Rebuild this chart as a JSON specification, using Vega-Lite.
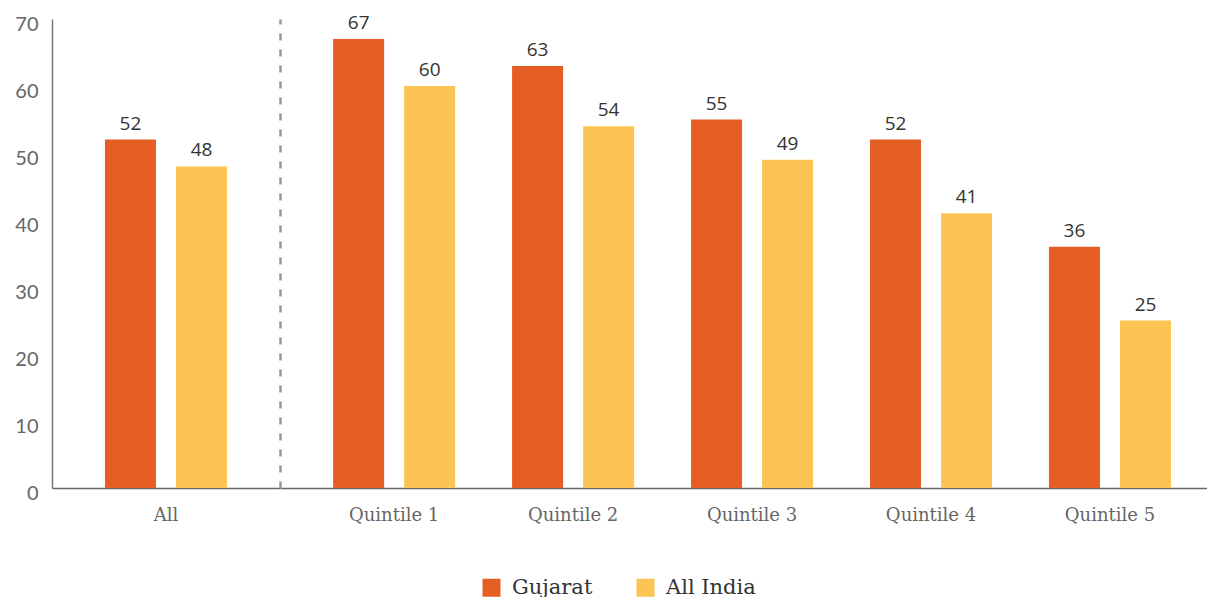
{
  "$schema": "https://vega.github.io/schema/vega-lite/v6.json",
  "background": "white",
  "padding": {"left": 5, "top": 14, "right": 0, "bottom": 0},
  "datasets": {
    "d": [
      {"group": "All", "region": "Gujarat", "value": 52},
      {"group": "All", "region": "All India", "value": 48},
      {"group": "Quintile 1", "region": "Gujarat", "value": 67},
      {"group": "Quintile 1", "region": "All India", "value": 60},
      {"group": "Quintile 2", "region": "Gujarat", "value": 63},
      {"group": "Quintile 2", "region": "All India", "value": 54},
      {"group": "Quintile 3", "region": "Gujarat", "value": 55},
      {"group": "Quintile 3", "region": "All India", "value": 49},
      {"group": "Quintile 4", "region": "Gujarat", "value": 52},
      {"group": "Quintile 4", "region": "All India", "value": 41},
      {"group": "Quintile 5", "region": "Gujarat", "value": 36},
      {"group": "Quintile 5", "region": "All India", "value": 25}
    ]
  },
  "data": {"name": "d"},
  "spacing": 0,
  "config": {
    "view": {"stroke": null},
    "font": "Lato",
    "axis": {"grid": false, "title": null}
  },
  "hconcat": [
    {
      "width": 228,
      "height": 469,
      "transform": [{"filter": "datum.group === 'All'"}],
      "encoding": {
        "x": {
          "field": "group", "type": "nominal", "sort": null,
          "scale": {"paddingInner": 0, "paddingOuter": 0.434},
          "axis": {"labelAngle": 0, "ticks": false, "domainColor": "#666", "domainWidth": 1.5, "labelFont": "DejaVu Serif", "labelFontSize": 18, "labelColor": "#666", "labelPadding": 18}
        },
        "xOffset": {"field": "region", "sort": ["Gujarat", "All India"], "scale": {"paddingInner": 0.2817, "paddingOuter": 0}},
        "y": {
          "field": "value", "type": "quantitative",
          "scale": {"domain": [0, 70]},
          "axis": {"values": [0, 10, 20, 30, 40, 50, 60, 70], "ticks": false, "domainColor": "#777", "domainWidth": 1.5, "labelFontSize": 20, "labelColor": "#666", "labelPadding": 14, "minExtent": 47, "maxExtent": 47, "labelBaseline": "middle", "labelOffset": 5}
        }
      },
      "layer": [
        {
          "mark": {"type": "bar"},
          "encoding": {
            "color": {
              "field": "region", "type": "nominal",
              "scale": {"domain": ["Gujarat", "All India"], "range": ["#E55F25", "#FCC553"]},
              "legend": {"orient": "none", "legendX": 429, "legendY": 558, "direction": "horizontal", "title": null, "symbolType": "square", "symbolSize": 324, "symbolStrokeWidth": 0, "labelFont": "DejaVu Serif", "labelFontSize": 21, "labelColor": "#333", "columnPadding": 42, "labelOffset": 10}
            }
          }
        },
        {
          "mark": {"type": "text", "dy": -16, "fontSize": 19, "font": "Open Sans", "color": "#333"},
          "encoding": {"text": {"field": "value", "type": "quantitative"}}
        }
      ]
    },
    {
      "width": 927,
      "height": 469,
      "transform": [{"filter": "datum.group !== 'All'"}],
      "encoding": {
        "x": {
          "field": "group", "type": "nominal", "sort": null,
          "scale": {"paddingInner": 0.318, "paddingOuter": 0.249, "align": 0.596},
          "axis": {"labelAngle": 0, "ticks": false, "domainColor": "#666", "domainWidth": 1.5, "labelFont": "DejaVu Serif", "labelFontSize": 18, "labelColor": "#666", "labelPadding": 18}
        },
        "xOffset": {"field": "region", "sort": ["Gujarat", "All India"], "scale": {"paddingInner": 0.2817, "paddingOuter": 0}},
        "y": {
          "field": "value", "type": "quantitative",
          "scale": {"domain": [0, 70]},
          "axis": {"labels": false, "ticks": false, "domainColor": "#999", "domainWidth": 2.5, "domainDash": [7, 9], "minExtent": 0, "maxExtent": 0}
        }
      },
      "layer": [
        {
          "mark": {"type": "bar"},
          "encoding": {
            "color": {"field": "region", "type": "nominal", "scale": {"domain": ["Gujarat", "All India"], "range": ["#E55F25", "#FCC553"]}}
          }
        },
        {
          "mark": {"type": "text", "dy": -16, "fontSize": 19, "font": "Open Sans", "color": "#333"},
          "encoding": {"text": {"field": "value", "type": "quantitative"}}
        }
      ]
    }
  ]
}
